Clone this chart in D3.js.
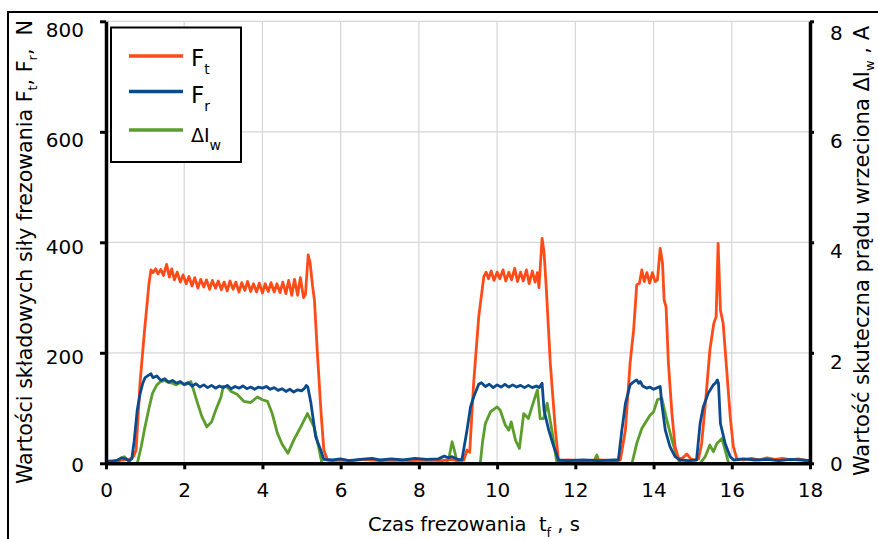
<!DOCTYPE html>
<html>
<head>
<meta charset="utf-8">
<script src="https://cdn.jsdelivr.net/npm/d3@7"></script>
<style>
  body { margin: 0; background: #fff; }
  svg text { font-family: "DejaVu Sans", sans-serif; fill: #000; white-space: pre; }
</style>
</head>
<body>
<div id="chart"></div>
<script>
// tick values
var xTicks = [0, 2, 4, 6, 8, 10, 12, 14, 16, 18];
var forceTicks = [0, 200, 400, 600, 800];
var currentTicks = [0, 2, 4, 6, 8];

// Ft [t s, N]
var ftData = [
  [0, 4], [0.2, 5], [0.4, 6], [0.6, 7], [0.7, 12], [0.77, 24], [0.87, 145], [0.98, 236], [1.1, 326], [1.15, 350],
  [1.2, 345], [1.27, 352], [1.33, 343], [1.4, 351], [1.47, 340], [1.55, 360], [1.62, 337], [1.68, 352], [1.75, 332],
  [1.82, 346], [1.9, 328], [1.97, 341], [2.05, 325], [2.12, 338], [2.2, 321], [2.27, 336], [2.35, 317], [2.42, 333],
  [2.5, 319], [2.57, 332], [2.65, 315], [2.72, 331], [2.8, 317], [2.87, 330], [2.95, 314], [3.02, 328], [3.1, 312],
  [3.17, 330], [3.25, 315], [3.32, 328], [3.4, 310], [3.47, 327], [3.55, 313], [3.62, 329], [3.7, 311], [3.77, 325],
  [3.85, 310], [3.92, 326], [4.0, 308], [4.07, 325], [4.15, 311], [4.22, 327], [4.3, 310], [4.37, 325], [4.45, 309],
  [4.52, 328], [4.6, 307], [4.67, 331], [4.75, 304], [4.82, 333], [4.9, 304], [4.97, 336], [5.05, 300], [5.1, 306],
  [5.17, 377], [5.22, 362], [5.28, 322], [5.33, 295], [5.4, 205], [5.5, 90], [5.57, 24], [5.66, 6],
  [5.8, 5], [6.0, 6], [6.3, 5], [6.6, 7], [7.0, 5], [7.4, 6], [7.8, 5], [8.2, 6], [8.6, 5], [8.8, 7], [9.0, 5],
  [9.15, 6], [9.23, 24], [9.3, 20], [9.4, 145], [9.53, 265], [9.66, 338],
  [9.72, 346], [9.78, 334], [9.85, 348], [9.92, 331], [10.0, 346], [10.07, 334], [10.15, 350], [10.22, 330],
  [10.3, 346], [10.37, 332], [10.45, 353], [10.52, 329], [10.6, 346], [10.67, 330], [10.75, 350], [10.82, 325],
  [10.9, 348], [10.97, 328], [11.03, 345], [11.07, 318], [11.15, 407], [11.2, 382], [11.26, 314], [11.36, 181],
  [11.49, 60], [11.57, 5], [11.8, 6], [12.2, 5], [12.6, 6], [13.0, 5], [13.15, 6],
  [13.28, 60], [13.4, 181], [13.49, 241], [13.57, 323], [13.64, 326], [13.7, 350], [13.76, 329], [13.83, 345],
  [13.9, 326], [13.97, 345], [14.04, 329], [14.1, 332], [14.17, 389], [14.23, 362], [14.27, 296], [14.32, 283],
  [14.38, 181], [14.47, 90], [14.55, 30], [14.64, 8], [14.75, 10], [14.85, 17], [14.95, 8], [15.05, 6], [15.15, 8],
  [15.23, 36], [15.34, 120], [15.44, 205], [15.54, 253], [15.6, 265], [15.65, 398], [15.71, 277], [15.78, 253],
  [15.87, 169], [15.96, 84], [16.04, 30], [16.13, 8], [16.3, 6], [16.5, 9], [16.7, 6], [16.9, 10], [17.1, 7],
  [17.3, 9], [17.5, 6], [17.7, 8], [17.9, 5], [18, 4]
];

// Fr [t s, N]
var frData = [
  [0, 3], [0.2, 4], [0.3, 6], [0.4, 10], [0.5, 8], [0.6, 5], [0.66, 8], [0.72, 40], [0.8, 97], [0.87, 125],
  [0.94, 145], [1.0, 155], [1.1, 160], [1.15, 162],
  [1.2, 155], [1.3, 158], [1.4, 150], [1.5, 153], [1.6, 147], [1.7, 150], [1.8, 145], [1.9, 148], [2.0, 143],
  [2.1, 146], [2.2, 140], [2.3, 144], [2.4, 138], [2.5, 142], [2.6, 137], [2.7, 141], [2.8, 136], [2.9, 140],
  [3.0, 137], [3.1, 141], [3.2, 135], [3.3, 139], [3.4, 136], [3.5, 140], [3.6, 135], [3.7, 138], [3.8, 134],
  [3.9, 138], [4.0, 136], [4.1, 139], [4.2, 134], [4.3, 137], [4.4, 132], [4.5, 135], [4.6, 130], [4.7, 134],
  [4.8, 129], [4.9, 133], [5.0, 131], [5.08, 136], [5.12, 141], [5.16, 138], [5.24, 109], [5.36, 48], [5.49, 24],
  [5.57, 7], [5.8, 6], [6.0, 8], [6.2, 5], [6.5, 7], [6.8, 9], [7.0, 6], [7.3, 8], [7.6, 6], [7.9, 9], [8.2, 7],
  [8.5, 8], [8.65, 13], [8.75, 10], [8.85, 12], [9.0, 7], [9.1, 6], [9.23, 60], [9.32, 102], [9.4, 120], [9.53, 143],
  [9.6, 146], [9.7, 139], [9.8, 143], [9.9, 137], [10.0, 142], [10.1, 138], [10.2, 143], [10.3, 138], [10.4, 142],
  [10.5, 138], [10.6, 141], [10.7, 137], [10.8, 141], [10.9, 137], [11.0, 140], [11.08, 137], [11.15, 145],
  [11.2, 96], [11.32, 60], [11.45, 30], [11.57, 6], [11.8, 5], [12.2, 6], [12.6, 5], [13.0, 6], [13.1, 6],
  [13.19, 60], [13.28, 108], [13.4, 142], [13.5, 148], [13.57, 151], [13.62, 145], [13.66, 148], [13.72, 140],
  [13.83, 136], [13.9, 138], [14.0, 134], [14.1, 137], [14.17, 139], [14.21, 108], [14.3, 60], [14.42, 30],
  [14.55, 12], [14.68, 6], [14.9, 5], [15.1, 6], [15.19, 72], [15.27, 102], [15.4, 127], [15.53, 142], [15.58, 145],
  [15.63, 151], [15.66, 145], [15.71, 72], [15.83, 36], [15.96, 12], [16.05, 6], [16.3, 8], [16.6, 6], [16.9, 7],
  [17.2, 5], [17.5, 7], [17.8, 6], [18, 5]
];

// delta Iw [t s, A]
var diData = [
  [0, 0], [0.3, 0.02], [0.4, 0.08], [0.47, 0.12], [0.55, 0.06], [0.62, 0], [0.8, 0], [0.9, 0.3], [0.98, 0.6],
  [1.1, 1.0], [1.19, 1.27], [1.3, 1.42], [1.4, 1.48], [1.5, 1.5], [1.6, 1.46], [1.7, 1.45], [1.8, 1.42], [1.9, 1.46],
  [2.0, 1.42], [2.1, 1.44], [2.17, 1.48], [2.25, 1.3], [2.34, 1.09], [2.45, 0.85], [2.58, 0.66], [2.7, 0.75],
  [2.8, 0.95], [2.94, 1.2], [3.0, 1.39], [3.1, 1.38], [3.2, 1.3], [3.35, 1.25], [3.53, 1.12], [3.7, 1.1], [3.87, 1.2],
  [4.0, 1.15], [4.13, 1.12], [4.25, 0.9], [4.38, 0.55], [4.5, 0.35], [4.65, 0.18], [4.8, 0.42], [4.98, 0.66],
  [5.15, 0.9], [5.32, 0.66], [5.45, 0.25], [5.52, 0], [8.7, 0], [8.77, 0.1], [8.85, 0.39], [8.92, 0.2], [8.98, 0],
  [9.57, 0], [9.63, 0.4], [9.7, 0.72], [9.83, 0.93], [10.0, 1.02], [10.08, 0.96], [10.21, 0.69], [10.3, 0.6],
  [10.36, 0.75], [10.47, 0.42], [10.57, 0.27], [10.68, 0.9], [10.8, 0.81], [10.89, 1.02], [11.03, 1.33], [11.1, 0.81],
  [11.19, 0.81], [11.28, 1.09], [11.4, 0.6], [11.53, 0], [12.45, 0], [12.55, 0.15], [12.62, 0], [13.45, 0],
  [13.57, 0.36], [13.7, 0.63], [13.83, 0.78], [13.91, 0.87], [14.0, 0.93], [14.1, 1.15], [14.21, 1.18], [14.34, 0.78],
  [14.47, 0.42], [14.6, 0.12], [14.68, 0], [15.19, 0], [15.32, 0.12], [15.44, 0.33], [15.53, 0.21], [15.62, 0.36],
  [15.75, 0.45], [15.83, 0.24], [15.92, 0], [18, 0]
];

var ftColor = "#ff4b17";
var frColor = "#0b4a8c";
var diColor = "#5b9e2b";

var svgWidth = 878;
var svgHeight = 539;

var margin = {
  top: 21.3,
  right: 68,
  bottom: 75.7,
  left: 106
};

var width = svgWidth - margin.left - margin.right;
var height = svgHeight - margin.top - margin.bottom;

var svg = d3.select("#chart")
  .append("svg")
  .attr("width", svgWidth)
  .attr("height", svgHeight);

// outer frame
svg.append("path")
  .attr("d", "M8," + svgHeight + "V12H" + svgWidth)
  .attr("fill", "none")
  .attr("stroke", "#000")
  .attr("stroke-width", 2);

var chartGroup = svg.append("g")
  .attr("transform", `translate(${margin.left}, ${margin.top})`);

// scales
var xScale = d3.scaleLinear().domain([0, 18]).range([0, width]);
var yForce = d3.scaleLinear().domain([0, 800]).range([height, 0]);
var yCurrent = d3.scaleLinear().domain([0, 8]).range([height, 0]);

// grid
chartGroup.append("g")
  .selectAll("line")
  .data(xTicks.filter(d => d > 0 && d < 18))
  .enter()
  .append("line")
  .attr("x1", d => xScale(d))
  .attr("x2", d => xScale(d))
  .attr("y1", 0)
  .attr("y2", height)
  .attr("stroke", "#d6d6d6")
  .attr("stroke-width", 1.2);

chartGroup.append("g")
  .selectAll("line")
  .data(forceTicks.filter(d => d > 0))
  .enter()
  .append("line")
  .attr("x1", 0)
  .attr("x2", width)
  .attr("y1", d => yForce(d))
  .attr("y2", d => yForce(d))
  .attr("stroke", "#d6d6d6")
  .attr("stroke-width", 1.2);

// lines
var line = d3.line()
  .x(d => xScale(d[0]));

chartGroup.append("path")
  .datum(diData)
  .attr("d", line.y(d => yCurrent(d[1])))
  .attr("fill", "none")
  .attr("stroke", diColor)
  .attr("stroke-width", 2.8)
  .attr("stroke-linejoin", "round");

chartGroup.append("path")
  .datum(ftData)
  .attr("d", line.y(d => yForce(d[1])))
  .attr("fill", "none")
  .attr("stroke", ftColor)
  .attr("stroke-width", 2.8)
  .attr("stroke-linejoin", "round");

chartGroup.append("path")
  .datum(frData)
  .attr("d", line.y(d => yForce(d[1])))
  .attr("fill", "none")
  .attr("stroke", frColor)
  .attr("stroke-width", 2.8)
  .attr("stroke-linejoin", "round");

// axes
var bottomAxis = d3.axisBottom(xScale).tickValues(xTicks).tickSize(6).tickSizeOuter(0);
var leftAxis = d3.axisLeft(yForce).tickValues(forceTicks).tickSize(6).tickSizeOuter(0);
var rightAxis = d3.axisRight(yCurrent).tickValues(currentTicks).tickSize(4).tickSizeOuter(0);

function styleAxis(g) {
  g.select(".domain").attr("stroke", "#000").attr("stroke-width", 3.5);
  g.selectAll(".tick line").attr("stroke", "#000").attr("stroke-width", 3);
  g.selectAll("text").attr("font-size", 20).attr("font-family", "DejaVu Sans").attr("fill", "#000");
}

var xAxisG = chartGroup.append("g")
  .attr("transform", `translate(0, ${height})`)
  .call(bottomAxis)
  .call(styleAxis);
xAxisG.selectAll("text").attr("y", 34).attr("dy", 0);

var yAxisG = chartGroup.append("g")
  .call(leftAxis)
  .call(styleAxis);
yAxisG.selectAll("text")
  .attr("x", -22)
  .attr("dy", d => d === 0 ? 8.5 : (d < 600 ? 11 : 14.8));

var y2AxisG = chartGroup.append("g")
  .attr("transform", `translate(${width}, 0)`)
  .call(rightAxis)
  .call(styleAxis);
y2AxisG.selectAll("text")
  .attr("x", 20)
  .attr("dy", d => d === 0 ? 7.5 : (d < 8 ? 15.5 : 18));

// axis titles
var leftTitle = svg.append("text")
  .attr("transform", "translate(32, 252) rotate(-90)")
  .attr("text-anchor", "middle")
  .attr("font-size", 20.6);
leftTitle.append("tspan").text("Wartości składowych siły frezowania F");
leftTitle.append("tspan").attr("font-size", 13).attr("dy", 5).text("t");
leftTitle.append("tspan").attr("dy", -5).text(", F");
leftTitle.append("tspan").attr("font-size", 13).attr("dy", 5).text("r");
leftTitle.append("tspan").attr("dy", -5).text(",  N");

var rightTitle = svg.append("text")
  .attr("transform", "translate(869, 251) rotate(-90)")
  .attr("text-anchor", "middle")
  .attr("font-size", 21);
rightTitle.append("tspan").text("Wartość skuteczna prądu wrzeciona ΔI");
rightTitle.append("tspan").attr("font-size", 13).attr("dy", 5).text("w");
rightTitle.append("tspan").attr("dy", -5).text(" , A");

var xTitle = svg.append("text")
  .attr("x", 474)
  .attr("y", 531)
  .attr("text-anchor", "middle")
  .attr("font-size", 19.5);
xTitle.append("tspan").text("Czas frezowania  t");
xTitle.append("tspan").attr("font-size", 13).attr("dy", 6).text("f");
xTitle.append("tspan").attr("dy", -6).text(" , s");

// legend
var legend = svg.append("g");
legend.append("rect")
  .attr("x", 111)
  .attr("y", 27.5)
  .attr("width", 130)
  .attr("height", 134.5)
  .attr("fill", "#fff")
  .attr("stroke", "#000")
  .attr("stroke-width", 2);

var legendItems = [
  {name: "F", sub: "t", color: ftColor, y: 56, base: 66, size: 23},
  {name: "F", sub: "r", color: frColor, y: 91.5, base: 103, size: 23},
  {name: "ΔI", sub: "w", color: diColor, y: 130, base: 141.5, size: 19}
];

legendItems.forEach(function(item) {
  legend.append("line")
    .attr("x1", 129)
    .attr("x2", 183)
    .attr("y1", item.y)
    .attr("y2", item.y)
    .attr("stroke", item.color)
    .attr("stroke-width", 3.5);
  var t = legend.append("text")
    .attr("x", 191)
    .attr("y", item.base)
    .attr("font-size", item.size);
  t.append("tspan").text(item.name);
  t.append("tspan").attr("font-size", 14).attr("dy", 8).text(item.sub);
});
</script>
</body>
</html>
